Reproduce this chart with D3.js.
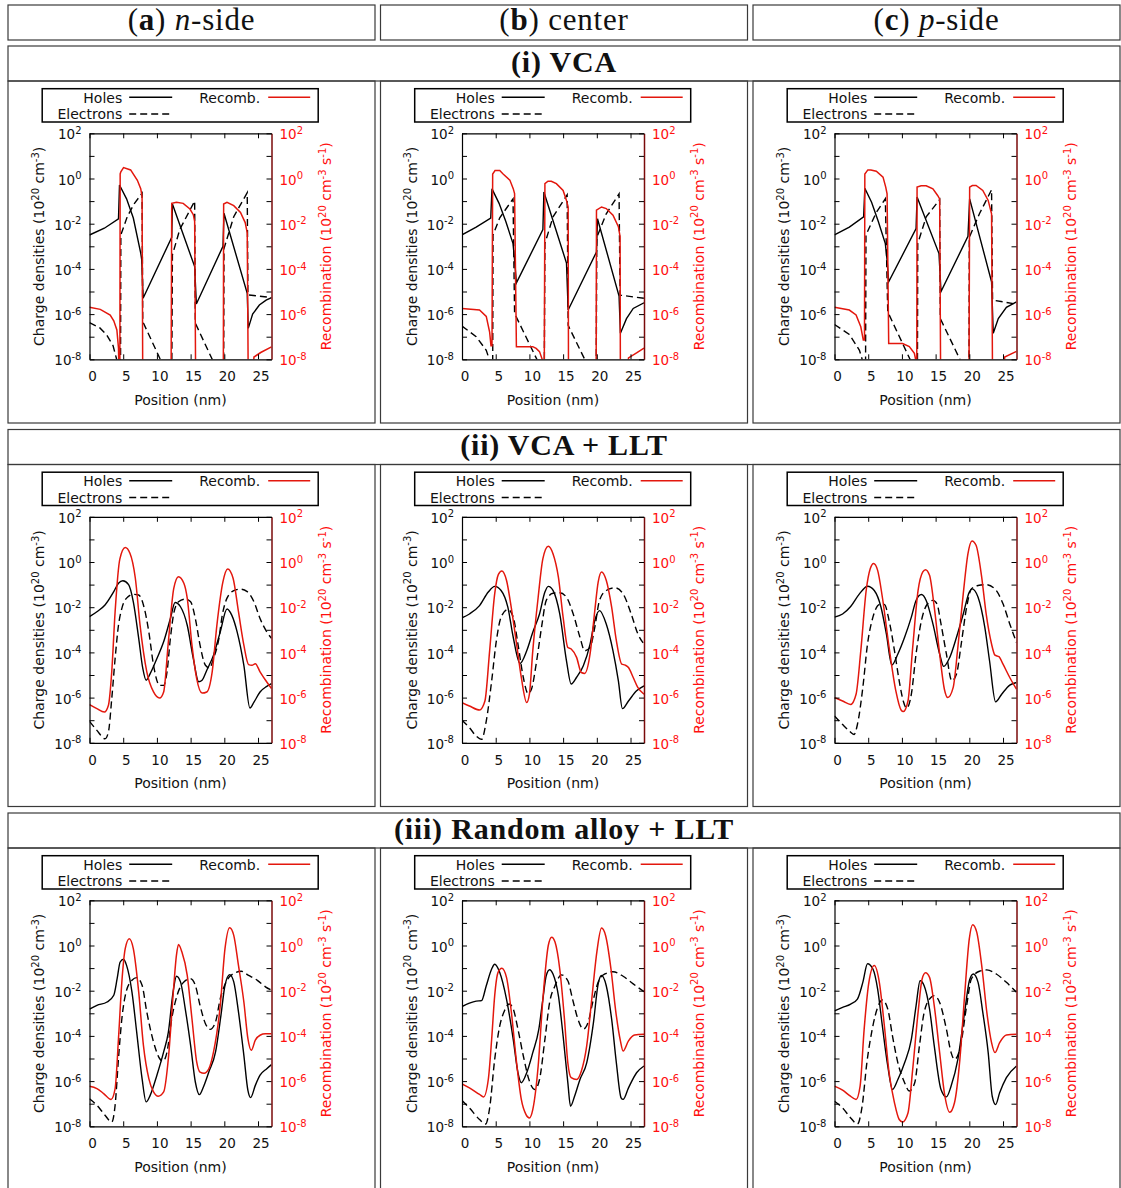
<!DOCTYPE html>
<html><head><meta charset="utf-8">
<script src="https://cdn.jsdelivr.net/npm/d3@7"></script>
<style>
body{margin:0;background:#fff;}
svg{display:block;}
text{white-space:pre;}
</style></head><body>
<svg id="c" width="1121" height="1188"></svg>
<script>
// ---------- categories / labels ----------
const columnLetters = ["a", "b", "c"];
const columnNames = ["n-side", "center", "p-side"];
const rowNumerals = ["i", "ii", "iii"];
const rowNames = ["VCA", "VCA + LLT", "Random alloy + LLT"];
const seriesNames = ["Holes", "Electrons", "Recomb."];
const xTicks = [0, 5, 10, 15, 20, 25];
const yTickExps = [-8, -7, -6, -5, -4, -3, -2, -1, 0, 1, 2];
const yLabelExps = [-8, -6, -4, -2, 0, 2];
const xLabel = "Position (nm)";

// ---------- data: [position (nm), log10(value)] ----------
// (i) VCA
const vca_n_holes = [[0,-2.5],[2.2,-2.2],[4.3,-1.79],[4.45,-0.29],[5.5,-0.9],[6.5,-1.75],[7.6,-3.3],[7.75,-3.6],[7.95,-5.3],[12.2,-2.6],[12.3,-1.13],[15.6,-3.9],[15.85,-5.55],[19.8,-3.0],[19.95,-1.54],[23.4,-5.08],[23.55,-6.63],[24.2,-6.0],[25.2,-5.6],[26.2,-5.38],[27,-5.27]];
const vca_n_electrons = [[0,-6.38],[1.5,-6.6],[2.5,-6.9],[3.5,-7.4],[4.2,-8.2],[4.4,-9],[4.6,-9],[4.65,-2.5],[5.6,-1.69],[6.6,-1.13],[7.8,-0.65],[7.9,-6.33],[10.5,-8],[11,-8.4],[12.2,-9],[12.3,-3.38],[13.4,-2.25],[15.6,-1.0],[15.7,-6.4],[18.2,-8],[18.6,-8.6],[19.9,-9],[19.95,-3.1],[21.4,-1.69],[23.4,-0.63],[23.5,-5.15],[27,-5.27]];
const vca_n_recomb = [[0,-5.7],[1.6,-5.79],[3.07,-6.04],[3.6,-6.3],[4.06,-6.7],[4.3,-7.5],[4.4,-9],[4.5,-9],[4.55,0.2],[4.65,0.3],[5.05,0.48],[6.1,0.38],[7.1,-0.08],[7.6,-0.45],[7.8,-0.8],[7.9,-9],[12.1,-9],[12.2,-1.1],[12.9,-1.05],[13.9,-1.1],[14.9,-1.35],[15.4,-1.6],[15.6,-1.9],[15.75,-9],[19.85,-9],[19.9,-1.13],[20.4,-1.05],[21.4,-1.2],[22.4,-1.5],[23.1,-1.95],[23.4,-2.4],[23.55,-9],[24.1,-9],[24.4,-7.9],[25.4,-7.7],[27,-7.45]];

const vca_c_holes = [[0,-2.49],[2.1,-2.15],[4.26,-1.75],[4.45,-0.46],[5.5,-1.1],[6.5,-1.9],[7.57,-2.88],[7.8,-3.6],[8.07,-4.62],[12.0,-2.26],[12.15,-0.6],[15.5,-3.74],[15.75,-5.82],[19.95,-3.25],[20.1,-1.78],[23.3,-5.2],[23.5,-6.85],[24.4,-6.2],[25.4,-5.75],[27,-5.5]];
const vca_c_electrons = [[0,-6.53],[2.1,-7.0],[3.6,-7.6],[4.26,-8.2],[4.4,-9],[4.55,-9],[4.6,-2.5],[5.6,-1.74],[7.57,-0.9],[7.8,-5.97],[11.1,-8],[11.4,-9],[12.2,-9],[12.3,-2.88],[13.5,-1.7],[15.6,-0.72],[15.75,-6.5],[18.2,-8],[18.5,-9],[19.9,-9],[20.0,-2.6],[21.4,-1.56],[23.3,-0.68],[23.45,-5.16],[27,-5.3]];
const vca_c_recomb = [[0,-5.75],[2.6,-5.82],[3.6,-6.1],[4.1,-6.8],[4.3,-7.4],[4.45,-7.4],[4.55,0.2],[4.9,0.35],[5.6,0.35],[6.1,0.2],[7.1,-0.07],[7.6,-0.45],[7.8,-0.67],[8.07,-7.44],[10.5,-7.44],[11.0,-7.52],[11.5,-7.66],[11.9,-8],[12.0,-9],[12.2,-9],[12.3,-0.23],[12.75,-0.12],[13.25,-0.12],[14.0,-0.23],[15.0,-0.53],[15.5,-0.97],[15.75,-1.26],[15.8,-9],[19.9,-9],[19.95,-1.4],[20.7,-1.26],[21.4,-1.33],[22.4,-1.62],[23.2,-2.13],[23.45,-2.57],[23.5,-9],[24.4,-9],[24.7,-7.94],[25.9,-7.72],[27,-7.5]];

const vca_p_holes = [[0,-2.49],[2.2,-2.15],[4.32,-1.7],[4.5,-0.43],[5.5,-1.05],[6.5,-1.9],[7.54,-2.88],[7.8,-3.6],[8.04,-4.57],[12.1,-2.22],[12.25,-0.82],[15.5,-3.32],[15.8,-5.0],[19.8,-2.56],[20.05,-0.9],[23.3,-4.57],[23.55,-6.85],[24.3,-6.2],[25.5,-5.7],[27,-5.46]];
const vca_p_electrons = [[0,-6.46],[2.2,-6.9],[3.7,-7.6],[4.3,-8.2],[4.5,-9],[4.6,-9],[4.67,-2.5],[6.2,-1.5],[7.54,-0.9],[7.9,-5.9],[11.2,-8],[11.5,-9],[12.3,-9],[12.35,-2.88],[13.6,-1.7],[15.6,-0.93],[15.7,-6.2],[18.6,-8],[18.9,-9],[19.95,-9],[20.0,-2.6],[21.5,-1.56],[23.3,-0.5],[23.45,-5.38],[27,-5.56]];
const vca_p_recomb = [[0,-5.7],[2.2,-5.82],[3.2,-6.04],[3.9,-6.56],[4.27,-7.15],[4.45,-7.15],[4.5,0.2],[4.95,0.38],[5.4,0.38],[6.2,0.32],[7.2,0.06],[7.6,-0.38],[7.8,-0.68],[8.04,-7.3],[10.1,-7.3],[11.1,-7.44],[11.85,-7.74],[12.1,-8.1],[12.15,-9],[12.2,-9],[12.25,-0.38],[12.85,-0.32],[13.6,-0.32],[14.6,-0.46],[15.3,-0.75],[15.6,-0.9],[15.75,-9],[19.95,-9],[20.05,-0.38],[20.45,-0.31],[21.0,-0.31],[22.0,-0.53],[22.8,-0.97],[23.3,-1.56],[23.45,-9],[25.0,-9],[25.25,-7.9],[27,-7.65]];

// (ii) VCA + LLT
const llt_n_holes = [[0,-2.42],[1.1,-2.2],[2.3,-1.9],[3.6,-1.31],[4.3,-0.94],[4.95,-0.83],[5.8,-1.0],[6.5,-1.76],[7.3,-3.38],[7.9,-4.7],[8.4,-5.23],[9.0,-4.94],[10.0,-4.27],[11.0,-3.53],[12.0,-2.5],[12.7,-1.79],[13.5,-1.98],[14.5,-2.8],[15.4,-4.27],[16.2,-5.3],[16.7,-5.23],[17.4,-4.79],[18.4,-4.12],[19.4,-3.09],[20.4,-2.08],[21.1,-2.35],[21.9,-3.09],[22.9,-4.57],[23.8,-6.46],[24.4,-6.2],[25.3,-5.75],[26.3,-5.5],[27,-5.38]];
const llt_n_electrons = [[0,-7.05],[1.1,-7.45],[2.3,-7.82],[2.8,-7.53],[3.3,-6.05],[3.8,-4.27],[4.3,-2.8],[4.8,-2.05],[5.5,-1.6],[6.5,-1.43],[7.3,-1.46],[8.0,-1.9],[8.8,-3.09],[9.5,-4.57],[10.4,-5.46],[11.0,-5.46],[11.5,-4.86],[12.0,-3.38],[12.5,-2.27],[13.2,-1.76],[14.2,-1.64],[15.0,-1.76],[15.7,-2.5],[16.4,-3.68],[17.2,-4.57],[17.8,-4.69],[18.4,-4.27],[19.2,-3.38],[19.7,-2.35],[20.4,-1.6],[21.4,-1.27],[22.4,-1.2],[23.4,-1.31],[24.4,-1.76],[25.3,-2.5],[26.3,-3.09],[27,-3.38]];
const llt_n_recomb = [[0,-6.31],[1.1,-6.49],[2.2,-6.64],[2.8,-6.35],[3.3,-4.86],[3.8,-2.2],[4.5,0.13],[5.3,0.64],[6.0,0.39],[6.8,-0.72],[7.5,-2.79],[8.5,-4.86],[9.5,-5.75],[10.4,-6.02],[11.0,-5.75],[11.7,-3.53],[12.5,-1.17],[13.2,-0.65],[14.0,-0.94],[14.5,-1.6],[15.2,-3.68],[15.9,-5.16],[16.7,-5.8],[17.4,-5.75],[18.2,-4.86],[18.9,-2.79],[19.8,-0.87],[20.5,-0.31],[21.3,-0.72],[22.1,-2.2],[22.9,-3.68],[23.6,-4.54],[24.1,-4.57],[24.6,-4.5],[25.3,-4.86],[26.3,-5.31],[27,-5.6]];

const llt_c_holes = [[0,-2.47],[1.1,-2.3],[2.6,-1.93],[3.9,-1.33],[4.85,-1.08],[5.8,-1.26],[6.8,-2.0],[7.6,-3.33],[8.6,-4.49],[9.6,-3.93],[10.5,-3.11],[11.5,-2.3],[12.3,-1.33],[12.8,-1.08],[13.5,-1.26],[14.5,-2.3],[15.5,-4.37],[16.2,-5.4],[17.0,-5.1],[18.0,-4.59],[19.0,-3.63],[19.7,-2.59],[20.4,-2.15],[21.4,-2.74],[22.4,-3.93],[23.2,-5.26],[23.8,-6.49],[24.7,-6.15],[25.9,-5.7],[27,-5.48]];
const llt_c_electrons = [[0,-7.0],[1.1,-7.33],[2.1,-7.7],[2.9,-7.85],[3.6,-7.04],[4.4,-5.26],[5.1,-3.48],[5.8,-2.44],[6.8,-2.1],[7.6,-2.44],[8.3,-3.63],[9.1,-5.11],[9.8,-5.82],[10.3,-5.63],[11.0,-4.52],[11.8,-2.89],[12.5,-1.7],[13.5,-1.38],[14.5,-1.36],[15.5,-1.56],[16.5,-2.3],[17.5,-3.33],[18.2,-3.93],[19.0,-3.78],[19.7,-2.89],[20.4,-1.7],[21.4,-1.26],[22.7,-1.14],[23.9,-1.41],[25.1,-2.3],[26.1,-3.19],[27,-3.63]];
const llt_c_recomb = [[0,-6.22],[1.1,-6.37],[2.6,-6.55],[3.4,-6.15],[4.1,-3.93],[4.85,-1.41],[5.4,-0.55],[5.9,-0.4],[6.6,-0.81],[7.3,-2.0],[8.1,-3.63],[8.8,-5.11],[9.6,-6.22],[10.0,-5.85],[10.5,-3.93],[11.3,-1.56],[12.0,0.15],[12.8,0.7],[13.5,0.37],[14.3,-0.67],[15.0,-2.44],[15.7,-3.78],[16.2,-3.85],[17.0,-4.22],[17.7,-4.89],[18.2,-4.93],[19.0,-4.07],[19.7,-2.15],[20.2,-0.89],[20.7,-0.44],[21.4,-0.81],[22.2,-2.0],[22.9,-3.48],[23.7,-4.52],[24.2,-4.56],[24.7,-4.67],[25.4,-5.11],[26.1,-5.56],[27,-5.85]];

const llt_p_holes = [[0,-2.44],[1.2,-2.3],[2.4,-1.97],[3.7,-1.41],[4.9,-1.07],[5.9,-1.26],[6.9,-2.0],[7.7,-3.19],[8.5,-4.56],[9.4,-4.07],[10.4,-3.33],[11.4,-2.44],[12.1,-1.7],[12.9,-1.44],[13.6,-1.7],[14.6,-2.74],[15.6,-4.07],[16.2,-4.62],[17.1,-4.22],[18.1,-3.33],[19.1,-2.3],[20.0,-1.33],[20.4,-1.19],[21.3,-1.56],[22.3,-2.89],[23.0,-4.37],[23.9,-6.19],[24.8,-5.85],[26.0,-5.45],[27,-5.33]];
const llt_p_electrons = [[0,-6.81],[1.2,-7.19],[2.2,-7.48],[2.9,-7.63],[3.4,-7.19],[4.2,-5.56],[4.9,-3.63],[5.7,-2.44],[6.7,-1.88],[7.4,-1.88],[8.1,-2.59],[8.9,-3.93],[9.6,-5.26],[10.2,-6.15],[10.7,-6.47],[11.4,-5.85],[12.1,-4.07],[12.9,-2.59],[13.8,-1.85],[14.6,-1.7],[15.2,-1.85],[15.8,-2.74],[16.6,-4.07],[17.4,-5.26],[18.1,-4.96],[18.8,-3.63],[19.6,-2.0],[20.3,-1.19],[21.3,-1.04],[22.5,-1.0],[23.8,-1.19],[25.0,-1.85],[26.0,-2.74],[27,-3.56]];
const llt_p_recomb = [[0,-6.0],[1.2,-6.15],[2.4,-6.3],[3.2,-5.85],[3.9,-3.93],[4.7,-1.26],[5.3,-0.3],[5.8,-0.07],[6.4,-0.37],[7.1,-1.56],[8.1,-3.78],[9.1,-5.7],[9.9,-6.56],[10.2,-6.62],[10.9,-6.15],[11.6,-3.78],[12.4,-1.26],[13.1,-0.44],[13.5,-0.34],[14.1,-0.59],[14.8,-2.0],[15.6,-4.07],[16.3,-5.63],[16.8,-6.0],[17.6,-5.56],[18.3,-3.78],[19.1,-1.41],[19.8,0.37],[20.4,0.93],[21.0,0.74],[21.8,-0.59],[22.5,-2.3],[23.3,-3.63],[23.8,-4.12],[24.4,-4.19],[25.0,-4.52],[26.0,-5.11],[27,-5.63]];

// (iii) Random alloy + LLT
const ra_n_holes = [[0,-2.82],[1.1,-2.65],[2.6,-2.5],[3.6,-2.2],[4.1,-1.47],[4.55,-0.73],[5.05,-0.61],[5.5,-0.88],[6.3,-2.06],[7.0,-3.83],[7.8,-5.89],[8.4,-6.92],[9.0,-6.63],[10.0,-5.74],[11.0,-4.71],[11.7,-3.83],[12.4,-2.06],[12.9,-1.36],[13.5,-1.61],[14.2,-2.79],[15.0,-4.42],[15.7,-6.04],[16.3,-6.6],[16.9,-6.26],[17.7,-5.6],[18.7,-4.71],[19.5,-3.09],[20.1,-1.76],[20.8,-1.29],[21.4,-1.61],[22.1,-2.94],[22.9,-4.86],[23.5,-6.41],[23.9,-6.73],[24.6,-6.19],[25.3,-5.74],[26.3,-5.45],[27,-5.27]];
const ra_n_electrons = [[0,-6.78],[1.1,-7.07],[2.3,-7.51],[3.3,-7.81],[3.8,-7.07],[4.3,-5.0],[4.8,-3.24],[5.5,-1.98],[6.3,-1.54],[7.0,-1.42],[7.8,-1.76],[8.5,-2.94],[9.5,-4.27],[10.4,-5.0],[10.9,-5.12],[11.5,-4.71],[12.2,-3.24],[13.0,-2.2],[14.0,-1.61],[15.0,-1.47],[15.7,-1.76],[16.4,-2.65],[17.2,-3.46],[17.9,-3.71],[18.7,-3.38],[19.4,-2.35],[20.4,-1.54],[21.4,-1.24],[22.5,-1.14],[23.6,-1.32],[24.9,-1.54],[26.1,-1.83],[27,-1.98]];
const ra_n_recomb = [[0,-6.23],[1.1,-6.33],[2.1,-6.55],[3.2,-6.81],[3.8,-6.33],[4.3,-4.12],[4.8,-1.61],[5.3,-0.14],[5.9,0.3],[6.5,-0.14],[7.3,-2.06],[8.0,-4.42],[8.8,-5.89],[9.5,-6.48],[10.2,-6.67],[11.0,-6.48],[11.7,-5.0],[12.4,-2.2],[12.9,-0.43],[13.2,0.04],[13.7,-0.28],[14.5,-1.32],[15.2,-3.24],[15.9,-5.15],[16.4,-5.6],[17.0,-5.65],[17.7,-5.46],[18.4,-4.71],[19.4,-2.65],[20.1,-0.14],[20.8,0.79],[21.4,0.45],[22.1,-0.88],[22.9,-2.5],[23.5,-4.12],[24.0,-4.64],[24.6,-4.19],[25.3,-3.97],[26.1,-3.91],[27,-3.91]];

const ra_c_holes = [[0,-2.7],[1.1,-2.55],[2.1,-2.46],[2.9,-2.44],[3.6,-1.78],[4.4,-1.04],[4.85,-0.83],[5.6,-1.19],[6.6,-2.37],[7.6,-4.15],[8.3,-5.63],[8.8,-6.07],[9.6,-5.63],[10.5,-4.74],[11.4,-3.7],[12.0,-2.37],[12.5,-1.33],[13.0,-1.07],[13.5,-1.26],[14.3,-2.22],[15.0,-4.0],[15.7,-6.07],[16.1,-7.11],[16.7,-6.67],[17.5,-5.93],[18.5,-5.19],[19.5,-3.41],[20.2,-1.7],[20.7,-1.33],[21.4,-1.78],[22.2,-3.26],[22.9,-5.19],[23.6,-6.74],[23.9,-6.81],[24.7,-6.3],[25.9,-5.63],[27,-5.33]];
const ra_c_electrons = [[0,-6.86],[1.1,-7.19],[2.6,-7.7],[3.5,-7.9],[4.1,-7.19],[4.85,-5.04],[5.6,-3.56],[6.3,-2.89],[7.0,-2.59],[7.6,-2.81],[8.3,-3.7],[9.1,-4.89],[10.0,-6.0],[10.8,-6.37],[11.5,-5.93],[12.3,-4.15],[13.0,-2.52],[13.8,-1.78],[14.75,-1.3],[15.7,-1.56],[16.4,-2.37],[17.2,-3.26],[18.0,-3.7],[18.7,-3.41],[19.5,-2.37],[20.2,-1.63],[21.2,-1.26],[22.4,-1.16],[23.9,-1.36],[25.4,-1.7],[27,-2.04]];
const ra_c_recomb = [[0,-6.12],[1.1,-6.3],[2.6,-6.59],[3.2,-6.7],[3.9,-5.93],[4.4,-4.15],[4.85,-2.22],[5.35,-1.19],[5.9,-1.01],[6.6,-1.41],[7.3,-2.89],[8.1,-5.19],[8.8,-6.81],[9.5,-7.48],[10.0,-7.63],[10.5,-7.26],[11.3,-5.33],[12.0,-2.37],[12.8,0.0],[13.3,0.37],[13.8,0.15],[14.5,-1.04],[15.2,-3.26],[15.7,-5.19],[16.2,-5.85],[17.0,-5.93],[17.7,-5.56],[18.5,-4.44],[19.2,-2.52],[20.0,-0.3],[20.7,0.77],[21.3,0.44],[22.1,-1.04],[22.8,-2.89],[23.5,-4.22],[23.9,-4.67],[24.7,-4.22],[25.6,-3.96],[27,-3.93]];

const ra_p_holes = [[0,-2.89],[1.2,-2.74],[2.4,-2.59],[3.4,-2.37],[4.2,-1.63],[4.9,-0.81],[5.7,-1.04],[6.4,-1.93],[7.1,-3.56],[7.9,-5.33],[8.6,-6.37],[9.4,-5.93],[10.4,-5.19],[11.4,-4.15],[12.1,-2.67],[12.7,-1.56],[13.3,-1.78],[14.1,-2.81],[14.8,-4.44],[15.8,-6.37],[16.6,-6.7],[17.3,-6.22],[18.3,-5.04],[19.3,-2.96],[20.05,-1.51],[20.6,-1.26],[21.3,-1.63],[22.0,-2.96],[22.8,-4.74],[23.4,-6.67],[23.9,-7.04],[24.5,-6.52],[25.5,-5.85],[27,-5.33]];
const ra_p_electrons = [[0,-6.89],[1.2,-7.19],[2.4,-7.63],[3.4,-7.9],[4.1,-7.11],[4.8,-5.19],[5.6,-3.7],[6.4,-2.74],[7.1,-2.41],[7.9,-2.81],[8.6,-4.0],[9.4,-5.19],[10.4,-6.07],[11.1,-6.44],[11.9,-6.07],[12.6,-4.44],[13.3,-2.96],[14.3,-2.3],[14.8,-2.22],[15.6,-2.52],[16.6,-3.7],[17.3,-4.74],[17.8,-5.04],[18.6,-4.59],[19.6,-2.67],[20.3,-1.48],[21.5,-1.14],[22.6,-1.08],[24.0,-1.26],[25.5,-1.63],[27,-2.07]];
const ra_p_recomb = [[0,-6.22],[1.2,-6.4],[2.2,-6.63],[3.2,-6.81],[3.8,-6.22],[4.4,-3.7],[5.1,-1.63],[5.9,-0.89],[6.65,-1.63],[7.4,-3.56],[8.1,-5.63],[8.9,-6.96],[9.6,-7.7],[10.1,-7.81],[10.9,-7.41],[11.6,-5.48],[12.4,-2.96],[13.0,-1.48],[13.5,-1.21],[14.1,-1.41],[14.8,-2.67],[15.6,-4.74],[16.3,-6.52],[17.1,-7.38],[17.8,-6.96],[18.6,-5.04],[19.3,-2.22],[20.0,0.3],[20.5,0.92],[21.1,0.59],[21.9,-1.04],[22.6,-2.96],[23.3,-4.3],[23.8,-4.74],[24.5,-4.3],[25.5,-3.96],[27,-3.93]];

const panels = [
  [[vca_n_holes, vca_n_electrons, vca_n_recomb], [vca_c_holes, vca_c_electrons, vca_c_recomb], [vca_p_holes, vca_p_electrons, vca_p_recomb]],
  [[llt_n_holes, llt_n_electrons, llt_n_recomb], [llt_c_holes, llt_c_electrons, llt_c_recomb], [llt_p_holes, llt_p_electrons, llt_p_recomb]],
  [[ra_n_holes, ra_n_electrons, ra_n_recomb], [ra_c_holes, ra_c_electrons, ra_c_recomb], [ra_p_holes, ra_p_electrons, ra_p_recomb]]
];

// ---------- layout ----------
const svg = d3.select("#c");
const cellX = [8, 380.5, 753], cellW = 367;
const rowTop = [46, 429.5, 813], titleH = 35, panelH = 342;
const boxStroke = "#3a3a3a";
const SANS = "DejaVu Sans, Verdana, sans-serif";
const SERIF = "Liberation Serif, Times New Roman, serif";
const RED_LINE = "#e3170d", RED_TEXT = "#ff1010";
const TICK_FS = 13.5, SUP_FS = 10, LABEL_FS = 14;

// header row
columnLetters.forEach((L, i) => {
  svg.append("rect").attr("x", cellX[i]).attr("y", 5).attr("width", cellW).attr("height", 35)
    .attr("fill", "none").attr("stroke", boxStroke).attr("stroke-width", 1.2);
  const t = svg.append("text").attr("x", cellX[i] + cellW / 2).attr("y", 30)
    .attr("text-anchor", "middle").style("font-family", SERIF).style("font-size", "31px")
    .style("letter-spacing", "0.8px").attr("fill", "#111");
  t.append("tspan").text("(");
  t.append("tspan").attr("font-weight", "bold").text(L);
  t.append("tspan").text(") ");
  const m = columnNames[i].match(/^([a-z])(-.*)$/);
  if (m) {
    t.append("tspan").attr("font-style", "italic").text(m[1]);
    t.append("tspan").text(m[2]);
  } else t.append("tspan").text(columnNames[i]);
});

rowNames.forEach((name, r) => {
  const top = rowTop[r];
  svg.append("rect").attr("x", 8).attr("y", top).attr("width", 1112).attr("height", titleH)
    .attr("fill", "none").attr("stroke", boxStroke).attr("stroke-width", 1.2);
  svg.append("text").attr("x", 564).attr("y", top + 25.5).attr("text-anchor", "middle")
    .style("font-family", SERIF).style("font-size", "30px").style("font-weight", "bold")
    .style("letter-spacing", "0.8px").attr("fill", "#111")
    .text("(" + rowNumerals[r] + ") " + name);

  for (let c = 0; c < 3; c++) {
    svg.append("rect").attr("x", cellX[c]).attr("y", top + titleH).attr("width", cellW).attr("height", panelH)
      .attr("fill", "none").attr("stroke", boxStroke).attr("stroke-width", 1.2);
    drawPanel(r, c, cellX[c] + 81.5, top + 87.3);
  }
});

function supText(sel, base, exp) {
  sel.append("tspan").text(base);
  sel.append("tspan").attr("dy", -5.5).style("font-size", SUP_FS + "px").text(exp);
}

function drawPanel(r, c, left, top) {
  const W = 182, H = 226;
  const x = d3.scaleLinear().domain([0, 27]).range([left, left + W]);
  const y = d3.scaleLog().domain([1e-8, 1e2]).range([top + H, top]);
  const id = "clip" + r + c;
  svg.append("clipPath").attr("id", id).append("rect")
    .attr("x", left).attr("y", top).attr("width", W).attr("height", H);

  const curve = r === 0 ? d3.curveLinear : d3.curveMonotoneX;
  const line = d3.line().x(d => x(d[0])).y(d => y(Math.pow(10, d[1]))).curve(curve);
  const g = svg.append("g").attr("clip-path", "url(#" + id + ")");
  const [holes, electrons, recomb] = panels[r][c];
  g.append("path").datum(holes).attr("d", line).attr("fill", "none").attr("stroke", "#000").attr("stroke-width", 1.4);
  g.append("path").datum(electrons).attr("d", line).attr("fill", "none").attr("stroke", "#000").attr("stroke-width", 1.4).attr("stroke-dasharray", "7,4");
  g.append("path").datum(recomb).attr("d", line).attr("fill", "none").attr("stroke", RED_LINE).attr("stroke-width", 1.5);

  const tickVals = yTickExps.map(e => Math.pow(10, e));
  const gl = svg.append("g").attr("transform", `translate(${left},0)`)
    .call(d3.axisLeft(y).tickValues(tickVals).tickSizeInner(-5).tickSizeOuter(0).tickPadding(8).tickFormat(""));
  const gr = svg.append("g").attr("transform", `translate(${left + W},0)`)
    .call(d3.axisRight(y).tickValues(tickVals).tickSizeInner(-5).tickSizeOuter(0).tickPadding(8).tickFormat(""));
  const gb = svg.append("g").attr("transform", `translate(0,${top + H})`)
    .call(d3.axisBottom(x).tickValues(xTicks).tickSizeInner(-5).tickSizeOuter(0).tickPadding(12.5));
  const gt = svg.append("g").attr("transform", `translate(0,${top})`)
    .call(d3.axisTop(x).tickValues(xTicks).tickSizeInner(-5).tickSizeOuter(0).tickFormat(""));

  [gl, gr, gb, gt].forEach(a => {
    a.selectAll("path.domain").attr("stroke", "#000").attr("stroke-width", 1.2);
    a.selectAll(".tick line").attr("stroke", "#000").attr("stroke-width", 1);
  });
  gr.select("path.domain").attr("stroke", "#7a0a0a").attr("stroke-width", 1.5);

  gb.selectAll(".tick text").attr("x", 2.5).style("font-family", SANS).style("font-size", TICK_FS + "px").attr("fill", "#111");

  const labelSet = new Set(yLabelExps);
  gl.selectAll(".tick").each(function (d, i) {
    const e = yTickExps[i];
    const t = d3.select(this).select("text");
    if (!labelSet.has(e)) return;
    t.attr("dy", "0.42em").style("font-family", SANS).style("font-size", TICK_FS + "px").attr("fill", "#111");
    supText(t, "10", String(e));
  });
  gr.selectAll(".tick").each(function (d, i) {
    const e = yTickExps[i];
    const t = d3.select(this).select("text");
    if (!labelSet.has(e)) return;
    t.attr("dy", "0.42em").style("font-family", SANS).style("font-size", TICK_FS + "px").attr("fill", RED_TEXT);
    supText(t, "10", String(e));
  });

  // axis titles
  svg.append("text").attr("x", left + W / 2).attr("y", top + H + 45.5).attr("text-anchor", "middle")
    .style("font-family", SANS).style("font-size", LABEL_FS + "px").attr("fill", "#111").text(xLabel);

  const yl = svg.append("text").attr("transform", `translate(${left - 45.5},${top + H / 2}) rotate(-90)`)
    .attr("text-anchor", "middle").style("font-family", SANS).style("font-size", LABEL_FS + "px").attr("fill", "#111");
  yl.append("tspan").text("Charge densities (10");
  yl.append("tspan").attr("dy", -5.5).style("font-size", SUP_FS + "px").text("20");
  yl.append("tspan").attr("dy", 5.5).text(" cm");
  yl.append("tspan").attr("dy", -5.5).style("font-size", SUP_FS + "px").text("-3");
  yl.append("tspan").attr("dy", 5.5).text(")");

  const yr = svg.append("text").attr("transform", `translate(${left + W + 59.5},${top + H / 2}) rotate(-90)`)
    .attr("text-anchor", "middle").style("font-family", SANS).style("font-size", LABEL_FS + "px").attr("fill", RED_TEXT);
  yr.append("tspan").text("Recombination (10");
  yr.append("tspan").attr("dy", -5.5).style("font-size", SUP_FS + "px").text("20");
  yr.append("tspan").attr("dy", 5.5).text(" cm");
  yr.append("tspan").attr("dy", -5.5).style("font-size", SUP_FS + "px").text("-3");
  yr.append("tspan").attr("dy", 5.5).text(" s");
  yr.append("tspan").attr("dy", -5.5).style("font-size", SUP_FS + "px").text("-1");
  yr.append("tspan").attr("dy", 5.5).text(")");

  // legend
  const lx = left - 47.3, ly = top - 44.6;
  const lg = svg.append("g");
  lg.append("rect").attr("x", lx).attr("y", ly).attr("width", 276).attr("height", 33.3)
    .attr("fill", "#fff").attr("stroke", "#000").attr("stroke-width", 1.5);
  const legendItems = [
    {name: seriesNames[0], tx: lx + 80, ty: ly + 13.8, l0: lx + 87, l1: lx + 130, yy: ly + 8.6, color: "#000", dash: null},
    {name: seriesNames[1], tx: lx + 80, ty: ly + 30.3, l0: lx + 87, l1: lx + 130, yy: ly + 25.3, color: "#000", dash: "7,4"},
    {name: seriesNames[2], tx: lx + 218, ty: ly + 13.8, l0: lx + 226, l1: lx + 268, yy: ly + 8.6, color: RED_LINE, dash: null}
  ];
  legendItems.forEach(it => {
    lg.append("text").attr("x", it.tx).attr("y", it.ty).attr("text-anchor", "end")
      .style("font-family", SANS).style("font-size", LABEL_FS + "px").attr("fill", "#111").text(it.name);
    lg.append("line").attr("x1", it.l0).attr("x2", it.l1).attr("y1", it.yy).attr("y2", it.yy)
      .attr("stroke", it.color).attr("stroke-width", 1.5).attr("stroke-dasharray", it.dash);
  });
}
</script>
</body></html>
